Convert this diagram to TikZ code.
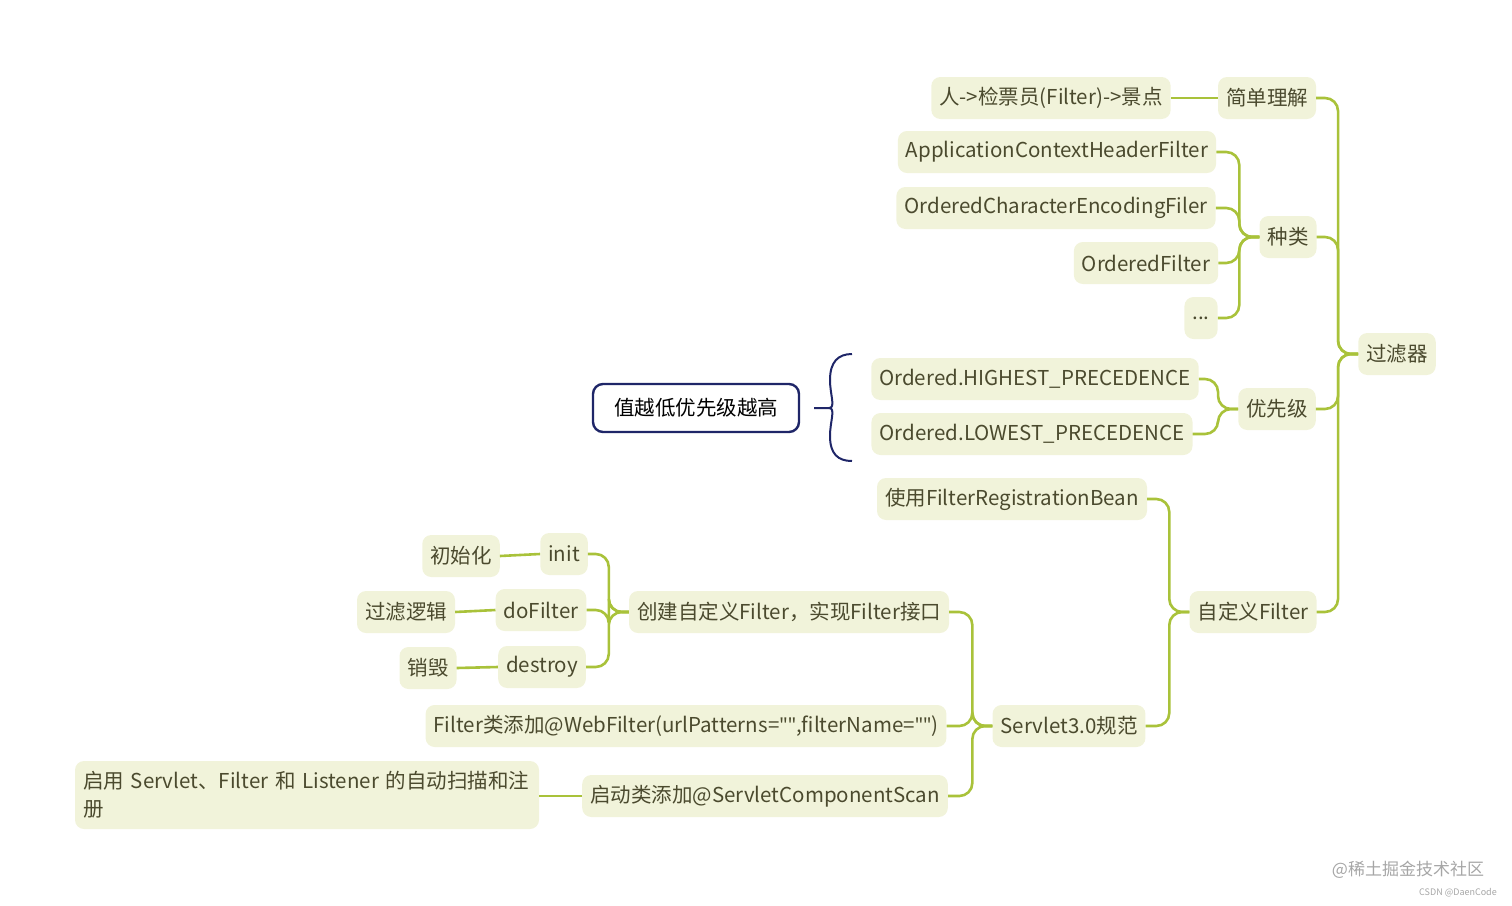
\documentclass[tikz,border=0pt]{standalone}
\usepackage{fontspec}
\setmainfont{Noto Sans CJK SC}
\newfontfamily\latinfont{Noto Sans}
\usetikzlibrary{positioning}

\definecolor{leafgreen}{HTML}{A9C23A}
\definecolor{boxfill}{HTML}{F1F3DA}
\definecolor{boxtext}{HTML}{4B4A2E}
\definecolor{navy}{HTML}{1F2668}

\newcommand{\dq}{{\latinfont"}}

\tikzset{
  topic/.style={fill=boxfill, rounded corners=9pt, text=boxtext, font=\fontsize{20.5}{28}\selectfont,
    minimum height=42pt, inner xsep=8pt},
  conn/.style={draw=leafgreen, line width=2.6pt, rounded corners=13pt},
  note/.style={draw=navy, line width=2.4pt, fill=white, rounded corners=10pt, text=black,
    font=\fontsize{20.5}{24}\selectfont, minimum height=48pt, minimum width=206pt}
}

\begin{document}
\begin{tikzpicture}[x=1pt,y=-1pt]
  \useasboundingbox (0,0) rectangle (1512,905);

  \node (filter) [topic] at (1397,354) {过滤器};
  \node (simple) [topic] at (1267,98) {简单理解};
  \node (person) [topic] at (1051,98) {人->检票员(Filter)->景点};
  \node (kinds) [topic] at (1288,237) {种类};
  \node (appctx) [topic] at (1057,152) {ApplicationContextHeaderFilter};
  \node (charenc) [topic] at (1056,208) {OrderedCharacterEncodingFiler};
  \node (ordered) [topic] at (1146,263) {OrderedFilter};
  \node (dots) [topic] at (1201,318) {...};
  \node (prio) [topic] at (1277,409) {优先级};
  \node (highest) [topic] at (1035,379) {Ordered.HIGHEST\_PRECEDENCE};
  \node (lowest) [topic] at (1032,434) {Ordered.LOWEST\_PRECEDENCE};
  \node (custom) [topic] at (1253,612) {自定义Filter};
  \node (regbean) [topic] at (1012,499) {使用FilterRegistrationBean};
  \node (servlet) [topic] at (1069,726) {Servlet3.0规范};
  \node (create) [topic] at (789,612) {创建自定义Filter，实现Filter接口};
  \node (webfilter) [topic] at (686,726) {Filter类添加@WebFilter(urlPatterns=\dq\dq,filterName=\dq\dq)};
  \node (scan) [topic] at (765,796) {启动类添加@ServletComponentScan};
  \node (enable) [topic, text width=448pt, align=left, minimum height=68pt] at (307,795)
    {启用 Servlet、Filter 和 Listener 的自动扫描和注\\册};
  \node (init) [topic] at (564,554) {init};
  \node (initdesc) [topic] at (461,556) {初始化};
  \node (dofilter) [topic] at (541,610) {doFilter};
  \node (dodesc) [topic] at (406,612) {过滤逻辑};
  \node (destroy) [topic] at (542,667) {destroy};
  \node (destroydesc) [topic] at (428,668) {销毁};

  \node (lowhigh) [note] at (696,408) {值越低优先级越高};
  \coordinate (brace) at (829,408);

  % 过滤器
  \foreach \child in {simple,kinds,prio,custom}
    \draw[conn] (filter.west) -- ++(-20,0) |- (\child.east);
  \draw[conn] (simple.west) -- (person.east);
  \foreach \child in {appctx,charenc,ordered,dots}
    \draw[conn] (kinds.west) -- ++(-20,0) |- (\child.east);
  \foreach \child in {highest,lowest}
    \draw[conn] (prio.west) -- ++(-20,0) |- (\child.east);
  \foreach \child in {regbean,servlet}
    \draw[conn] (custom.west) -- ++(-20,0) |- (\child.east);
  \foreach \child in {create,webfilter,scan}
    \draw[conn] (servlet.west) -- ++(-20,0) |- (\child.east);
  \draw[conn] (scan.west) -- (enable.east |- scan.west);
  \foreach \child in {init,dofilter,destroy}
    \draw[conn] (create.west) -- ++(-20,0) |- (\child.east);
  \draw[conn] (init.west) -- (initdesc.east);
  \draw[conn] (dofilter.west) -- (dodesc.east);
  \draw[conn] (destroy.west) -- (destroydesc.east);

  % brace
  \draw[navy, line width=2pt] (lowhigh.east) ++(14,0) -- (brace)
    .. controls (836,408) and (830,395) .. (830,380)
    .. controls (830,362) and (838,354) .. (852,354);
  \draw[navy, line width=2pt] (brace)
    .. controls (836,408) and (830,421) .. (830,436)
    .. controls (830,454) and (838,461) .. (852,461);

  \node (mark) [text=gray!70, font=\fontsize{17}{19}\selectfont] at (1408,870) {@稀土掘金技术社区};
  \node (csdn) [text=gray!70, font=\fontsize{9}{10}\selectfont] at (1458,893) {CSDN @DaenCode};
\end{tikzpicture}
\end{document}
